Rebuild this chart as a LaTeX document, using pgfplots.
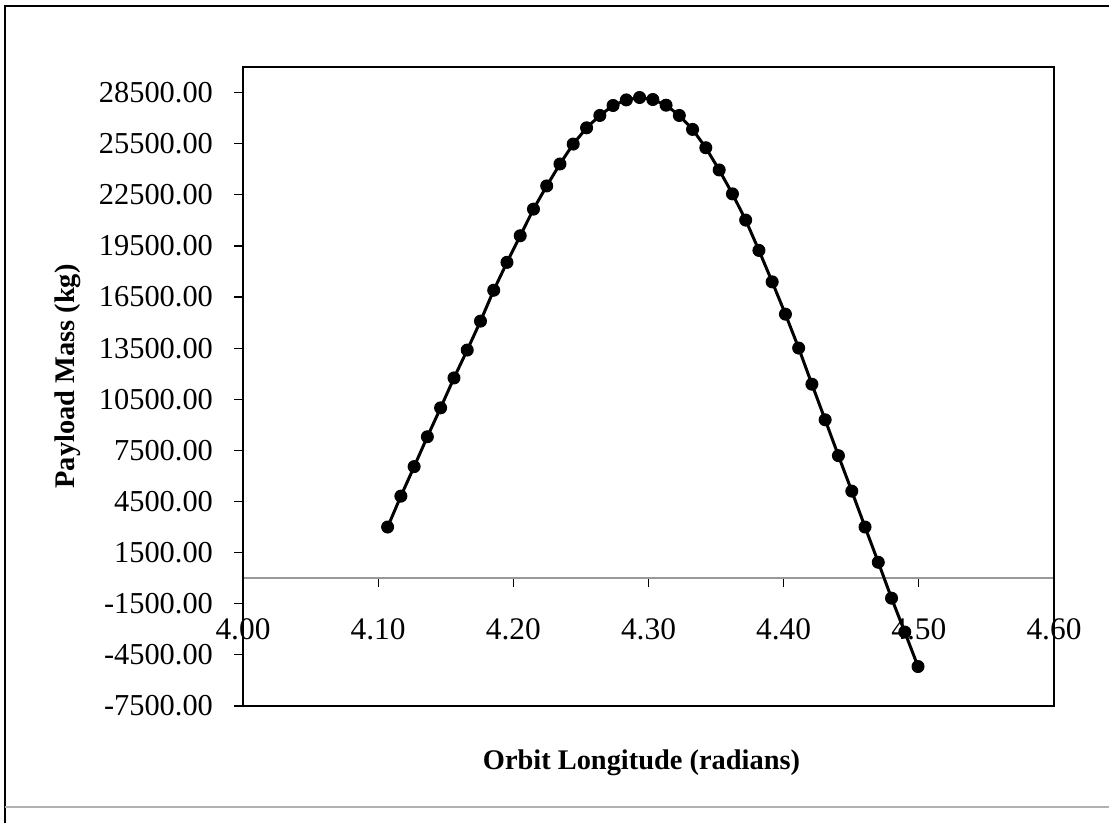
\documentclass[border=0pt]{standalone}
\usepackage{fontspec}
\setmainfont{Liberation Serif}
\usepackage{pgfplots}
\pgfplotsset{compat=1.18}

\begin{document}
\begin{tikzpicture}
\path[use as bounding box] (0,0) rectangle (554.5pt,411.5pt);
% outer chart frame
\draw[line width=1.1pt] (2.5pt,0) -- (2.5pt,408.5pt) -- (556pt,408.5pt);
\draw[gray!60, line width=0.6pt] (2.5pt,8pt) -- (556pt,8pt);
\begin{axis}[
  at={(121.5pt,58.5pt)}, anchor=south west,
  scale only axis, width=405.5pt, height=319.5pt,
  xmin=4.0, xmax=4.6, ymin=-7500, ymax=30000,
  clip=false,
  axis x line=middle, axis y line=left,
  axis line style={-},
  x axis line style={gray!80, line width=0.7pt},
  y axis line style={black, line width=1pt},
  hide obscured x ticks=false,
  scaled y ticks=false, scaled x ticks=false,
  xtick={4.0,4.1,4.2,4.3,4.4,4.5,4.6},
  ytick={-7500,-4500,-1500,1500,4500,7500,10500,13500,16500,19500,22500,25500,28500},
  tick align=outside,
  major tick length=4.5pt,
  xtick style={black, line width=0.6pt},
  ytick style={black, line width=0.6pt},
  minor tick num=0,
  /pgf/number format/assume math mode=true,
  xticklabel style={font=\fontsize{15.7}{18}\selectfont, anchor=north, yshift=-12pt,
    /pgf/number format/fixed, /pgf/number format/fixed zerofill,
    /pgf/number format/precision=2},
  yticklabel style={font=\fontsize{15.2}{18}\selectfont, anchor=east, xshift=-7pt,
    /pgf/number format/fixed, /pgf/number format/fixed zerofill,
    /pgf/number format/precision=2, /pgf/number format/1000 sep={}},
  xlabel={Orbit Longitude (radians)},
  ylabel={Payload Mass (kg)},
  xlabel style={font=\fontsize{14.2}{17}\selectfont\bfseries,
    at={(axis description cs:0.5,0)}, anchor=center, yshift=-28.5pt, xshift=-3.5pt},
  ylabel style={font=\fontsize{14.2}{17}\selectfont\bfseries,
    at={(axis description cs:0,0.5)}, anchor=center, rotate=0, yshift=87.5pt, xshift=5pt},
]
\draw[black, line width=1pt] (rel axis cs:0,0) rectangle (rel axis cs:1,1);
\addplot[black, line width=1.5pt, mark=*, mark size=3pt,
  mark options={fill=black, line width=0.5pt}] coordinates {
  (4.1070, 3003)
  (4.1168, 4816)
  (4.1266, 6547)
  (4.1364, 8301)
  (4.1462, 9997)
  (4.1561, 11751)
  (4.1659, 13389)
  (4.1757, 15085)
  (4.1855, 16898)
  (4.1953, 18535)
  (4.2051, 20096)
  (4.2149, 21658)
  (4.2247, 23020)
  (4.2345, 24307)
  (4.2443, 25477)
  (4.2542, 26430)
  (4.2640, 27155)
  (4.2738, 27740)
  (4.2836, 28067)
  (4.2934, 28208)
  (4.3032, 28091)
  (4.3130, 27757)
  (4.3228, 27155)
  (4.3326, 26336)
  (4.3424, 25260)
  (4.3523, 23956)
  (4.3621, 22553)
  (4.3719, 21015)
  (4.3817, 19237)
  (4.3915, 17389)
  (4.4013, 15494)
  (4.4111, 13506)
  (4.4209, 11383)
  (4.4307, 9295)
  (4.4405, 7190)
  (4.4504, 5108)
  (4.4602, 3003)
  (4.4700, 933)
  (4.4798, -1173)
  (4.4896, -3161)
  (4.4994, -5184)
};
\end{axis}
\end{tikzpicture}
\end{document}
